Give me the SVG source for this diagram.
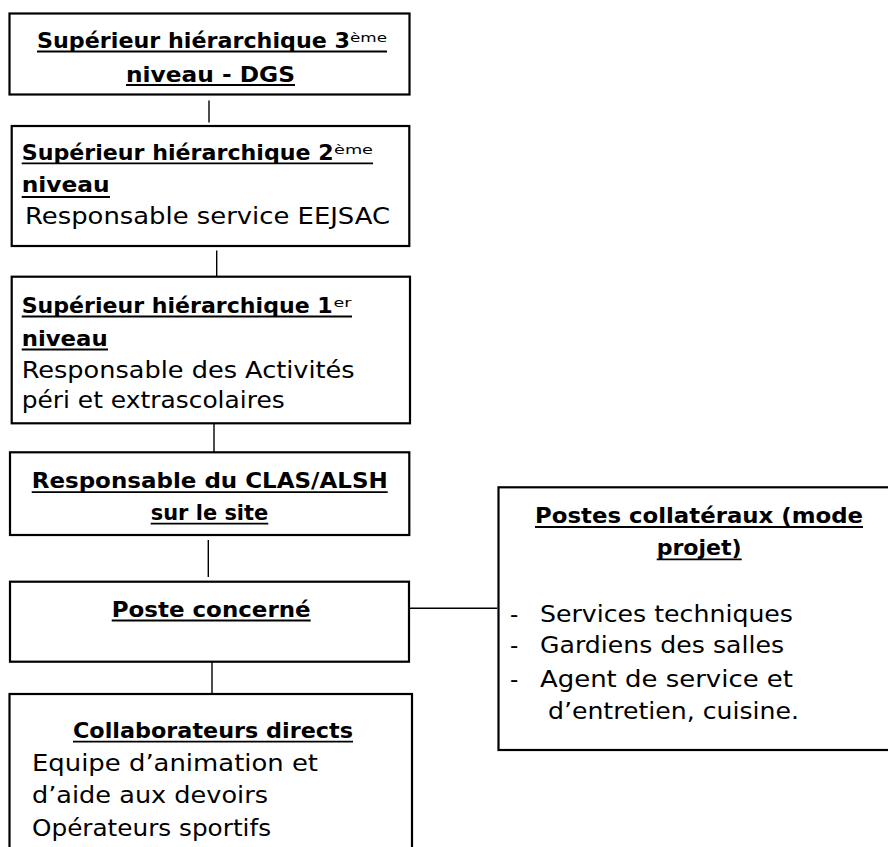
<svg xmlns="http://www.w3.org/2000/svg" width="888" height="847" viewBox="0 0 888 847">
<style>
.box{fill:#fff;stroke:#000;stroke-width:2.2}
.con{stroke:#000;stroke-width:1.4;fill:none}
.ul{stroke:#000;stroke-width:1.8}
text{font-family:"DejaVu Sans","Liberation Sans",sans-serif;font-size:23px;fill:#000}
.b{font-weight:bold;font-size:22px}
.sup{font-size:13px;font-weight:normal}
</style>
<rect width="888" height="847" fill="#fff"/>
<g id="connectors">
<line class="con" x1="209" y1="100.5" x2="209" y2="122.5"/>
<line class="con" x1="216.7" y1="250.5" x2="216.7" y2="276"/>
<line class="con" x1="214" y1="418" x2="214" y2="453"/>
<line class="con" x1="208.3" y1="540" x2="208.3" y2="577"/>
<line class="con" x1="212" y1="660" x2="212" y2="694"/>
<line class="con" x1="410" y1="608.3" x2="497.3" y2="608.3"/>
</g>
<g id="n1">
<rect class="box" x="9.5" y="13.5" width="400" height="81"/>
<text class="b" y="48.3"><tspan x="37" textLength="313" lengthAdjust="spacingAndGlyphs">Supérieur hiérarchique 3</tspan><tspan class="sup" x="350" y="41.5" textLength="37" lengthAdjust="spacingAndGlyphs">ème</tspan></text>
<line class="ul" x1="37" y1="51.5" x2="387" y2="51.5"/>
<text class="b" x="126" y="81.7" textLength="169" lengthAdjust="spacingAndGlyphs">niveau - DGS</text>
<line class="ul" x1="126" y1="85" x2="295" y2="85"/>
</g>
<g id="n2">
<rect class="box" x="11.7" y="126" width="397.6" height="120"/>
<text class="b" y="160"><tspan x="21.7" textLength="312" lengthAdjust="spacingAndGlyphs">Supérieur hiérarchique 2</tspan><tspan class="sup" x="334" y="153.5" textLength="39" lengthAdjust="spacingAndGlyphs">ème</tspan></text>
<line class="ul" x1="21.7" y1="163.3" x2="373" y2="163.3"/>
<text class="b" x="21.7" y="192" textLength="88" lengthAdjust="spacingAndGlyphs">niveau</text>
<line class="ul" x1="21.7" y1="197" x2="110" y2="197"/>
<text x="25" y="224" textLength="365" lengthAdjust="spacingAndGlyphs">Responsable service EEJSAC</text>
</g>
<g id="n3">
<rect class="box" x="11.7" y="276.7" width="398.3" height="146.6"/>
<text class="b" y="313"><tspan x="21.7" textLength="311" lengthAdjust="spacingAndGlyphs">Supérieur hiérarchique 1</tspan><tspan class="sup" x="333.5" y="306.5" textLength="18" lengthAdjust="spacingAndGlyphs">er</tspan></text>
<line class="ul" x1="21.7" y1="316.5" x2="352" y2="316.5"/>
<text class="b" x="21.7" y="346" textLength="86" lengthAdjust="spacingAndGlyphs">niveau</text>
<line class="ul" x1="21.7" y1="349.5" x2="108" y2="349.5"/>
<text x="21.7" y="377.7" textLength="333" lengthAdjust="spacingAndGlyphs">Responsable des Activités</text>
<text x="21.7" y="408.3" textLength="263" lengthAdjust="spacingAndGlyphs">péri et extrascolaires</text>
</g>
<g id="n4">
<rect class="box" x="10" y="452.3" width="399.3" height="82.7"/>
<text class="b" x="31.7" y="488.3" textLength="356" lengthAdjust="spacingAndGlyphs">Responsable du CLAS/ALSH</text>
<line class="ul" x1="31.7" y1="492.2" x2="387.7" y2="492.2"/>
<text class="b" x="150.7" y="520" textLength="117.6" lengthAdjust="spacingAndGlyphs">sur le site</text>
<line class="ul" x1="150.7" y1="523.7" x2="268.3" y2="523.7"/>
</g>
<g id="n5">
<rect class="box" x="10" y="581.7" width="399" height="80"/>
<text class="b" x="111.7" y="616.7" textLength="199" lengthAdjust="spacingAndGlyphs">Poste concerné</text>
<line class="ul" x1="111.7" y1="620.5" x2="310.7" y2="620.5"/>
</g>
<g id="n6">
<rect class="box" x="9.5" y="694" width="402.5" height="170"/>
<text class="b" x="73" y="738" textLength="280" lengthAdjust="spacingAndGlyphs">Collaborateurs directs</text>
<line class="ul" x1="73" y1="741.7" x2="353" y2="741.7"/>
<text x="32" y="771" textLength="286" lengthAdjust="spacingAndGlyphs">Equipe d’animation et</text>
<text x="32" y="803.3" textLength="236" lengthAdjust="spacingAndGlyphs">d’aide aux devoirs</text>
<text x="32" y="836" textLength="239" lengthAdjust="spacingAndGlyphs">Opérateurs sportifs</text>
</g>
<g id="n7">
<rect class="box" x="498.5" y="487.3" width="400" height="262.7"/>
<text class="b" x="535" y="523.3" textLength="328" lengthAdjust="spacingAndGlyphs">Postes collatéraux (mode</text>
<line class="ul" x1="535" y1="527" x2="863" y2="527"/>
<text class="b" x="656.7" y="555" textLength="85" lengthAdjust="spacingAndGlyphs">projet)</text>
<line class="ul" x1="656.7" y1="559.3" x2="741.7" y2="559.3"/>
<text x="510" y="621.7">-</text>
<text x="540" y="621.7" textLength="253" lengthAdjust="spacingAndGlyphs">Services techniques</text>
<text x="510" y="653.3">-</text>
<text x="540" y="653.3" textLength="244" lengthAdjust="spacingAndGlyphs">Gardiens des salles</text>
<text x="510" y="686.7">-</text>
<text x="540" y="686.7" textLength="253" lengthAdjust="spacingAndGlyphs">Agent de service et</text>
<text x="548" y="719.3" textLength="251" lengthAdjust="spacingAndGlyphs">d’entretien, cuisine.</text>
</g>
</svg>
